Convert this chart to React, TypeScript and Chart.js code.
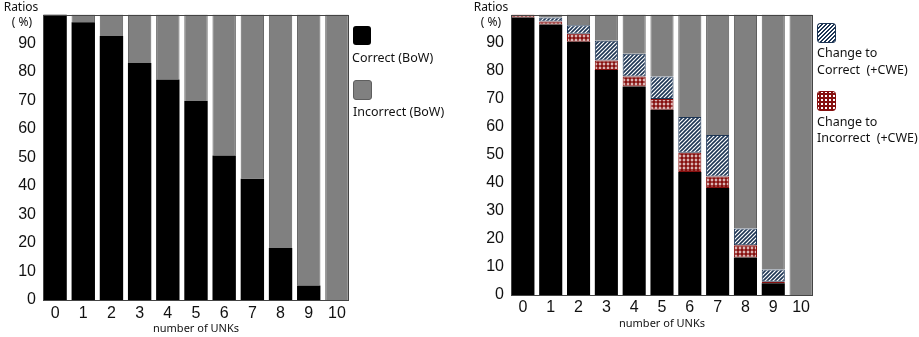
import React, { useEffect, useRef } from 'react';
import { Chart, registerables } from 'chart.js';

Chart.register(...registerables);

// ---------- data ----------
const categories = ['0', '1', '2', '3', '4', '5', '6', '7', '8', '9', '10'];

// Left panel (BoW)
const correctBoW = [100, 97.3, 92.5, 83, 77.3, 69.7, 50.6, 42.5, 18.2, 5.1, 0];
const incorrectBoW = [0, 2.7, 7.5, 17, 22.7, 30.3, 49.4, 57.5, 81.8, 94.9, 100];

// Right panel (+CWE)
const stayCorrect = [99, 96.5, 90.3, 80.2, 74.4, 66.1, 43.9, 38.2, 13.4, 4.2, 0];
const changeToIncorrect = [1, 1, 2.9, 3.4, 3.5, 3.8, 6.8, 4.1, 4.3, 0.5, 0];
const changeToCorrect = [0, 1.5, 3, 7.1, 8.1, 8, 12.8, 14.8, 6, 4.4, 0];
const stayIncorrect = [0, 1, 3.8, 9.3, 14, 22.1, 36.5, 42.9, 76.3, 90.9, 100];

const yMax = 100;
const yStep = 10;

const TICK_FONT = '"Liberation Sans", Arial, sans-serif';
const TEXT_FONT = '"Noto Sans", "Open Sans", sans-serif';

const GRAY = '#808080';
const GRAY_EDGE = '#5e5e5e';
const NAVY = '#1d3554';
const DARK_RED = '#86100f';

function hatchPattern(ctx: CanvasRenderingContext2D) {
  const c = document.createElement('canvas');
  c.width = 4;
  c.height = 4;
  const g = c.getContext('2d')!;
  g.fillStyle = '#ffffff';
  g.fillRect(0, 0, 4, 4);
  g.strokeStyle = NAVY;
  g.lineWidth = 1.6;
  g.beginPath();
  g.moveTo(0, 4);
  g.lineTo(4, 0);
  g.moveTo(-1, 1);
  g.lineTo(1, -1);
  g.moveTo(3, 5);
  g.lineTo(5, 3);
  g.stroke();
  return ctx.createPattern(c, 'repeat')!;
}

function dotPattern(ctx: CanvasRenderingContext2D) {
  const c = document.createElement('canvas');
  c.width = 4;
  c.height = 4;
  const g = c.getContext('2d')!;
  g.fillStyle = '#ffffff';
  g.fillRect(0, 0, 4, 4);
  g.fillStyle = DARK_RED;
  g.beginPath();
  g.arc(2, 2, 1.95, 0, Math.PI * 2);
  g.fill();
  return ctx.createPattern(c, 'repeat')!;
}

const framePlugin = {
  id: 'frame',
  afterDatasetsDraw(chart: any) {
    const { ctx, chartArea } = chart;
    const meta = chart.getDatasetMeta(0);
    const first = meta.data[0];
    const last = meta.data[meta.data.length - 1];
    const x0 = first.x - first.width / 2;
    const x1 = last.x + last.width / 2;
    ctx.save();
    ctx.strokeStyle = '#444444';
    ctx.lineWidth = 1;
    ctx.strokeRect(Math.round(x0) + 0.5, Math.round(chartArea.top) + 0.5, Math.round(x1 - x0), Math.round(chartArea.bottom - chartArea.top));
    ctx.restore();
  },
};

function edgeWidth(c: any) {
  const v = c.raw as number;
  return v > 0 ? 1 : 0;
}

function makeOptions(yWidth: number, xHeight: number, pad: any, tickPad: number, titlePadBottom: number) {
  return {
    responsive: false,
    animation: false as const,
    layout: { padding: pad },
    plugins: { legend: { display: false }, tooltip: { enabled: false } },
    scales: {
      x: {
        stacked: true,
        grid: { display: false, drawTicks: false },
        border: { display: false },
        ticks: { color: '#111', font: { family: TICK_FONT, size: 16 }, padding: tickPad, maxRotation: 0, autoSkip: false },
        title: {
          display: true,
          text: 'number of UNKs',
          color: '#111',
          font: { family: TEXT_FONT, size: 11 },
          padding: { top: 0, bottom: titlePadBottom },
        },
        afterFit(scale: any) {
          scale.height = xHeight;
        },
      },
      y: {
        stacked: true,
        min: 0,
        max: yMax,
        grid: { display: false, drawTicks: false },
        border: { display: false },
        ticks: {
          stepSize: yStep,
          color: '#111',
          padding: 5,
          font: { family: TICK_FONT, size: 16 },
          callback: (v: any) => (Number(v) >= yMax ? '' : String(v)),
        },
        afterFit(scale: any) {
          scale.width = yWidth;
        },
      },
    },
  };
}

function LeftChart() {
  const ref = useRef<HTMLCanvasElement>(null);
  useEffect(() => {
    const canvas = ref.current!;
    const chart = new Chart(canvas, {
      type: 'bar',
      data: {
        labels: categories,
        datasets: [
          {
            label: 'Correct (BoW)',
            data: correctBoW,
            backgroundColor: '#000000',
            borderWidth: 0,
            barPercentage: 0.83,
            categoryPercentage: 1,
          },
          {
            label: 'Incorrect (BoW)',
            data: incorrectBoW,
            backgroundColor: GRAY,
            borderColor: GRAY_EDGE,
            borderWidth: edgeWidth,
            barPercentage: 0.83,
            categoryPercentage: 1,
          },
        ],
      },
      options: makeOptions(41, 37, { top: 10, right: 109, left: 0, bottom: 0 }, 4, 2) as any,
      plugins: [framePlugin],
    });
    return () => chart.destroy();
  }, []);
  return <canvas ref={ref} width={460} height={337} style={{ position: 'absolute', left: 0, top: 0 }} />;
}

function RightChart() {
  const ref = useRef<HTMLCanvasElement>(null);
  useEffect(() => {
    const canvas = ref.current!;
    const ctx = canvas.getContext('2d')!;
    const hatch = hatchPattern(ctx);
    const dots = dotPattern(ctx);
    const chart = new Chart(canvas, {
      type: 'bar',
      data: {
        labels: categories,
        datasets: [
          {
            label: 'Correct',
            data: stayCorrect,
            backgroundColor: '#000000',
            borderWidth: 0,
            barPercentage: 0.83,
            categoryPercentage: 1,
          },
          {
            label: 'Change to Incorrect (+CWE)',
            data: changeToIncorrect,
            backgroundColor: dots as any,
            borderColor: DARK_RED,
            borderWidth: edgeWidth,
            borderSkipped: false,
            barPercentage: 0.83,
            categoryPercentage: 1,
          },
          {
            label: 'Change to Correct (+CWE)',
            data: changeToCorrect,
            backgroundColor: hatch as any,
            borderColor: NAVY,
            borderWidth: edgeWidth,
            borderSkipped: false,
            barPercentage: 0.83,
            categoryPercentage: 1,
          },
          {
            label: 'Incorrect',
            data: stayIncorrect,
            backgroundColor: GRAY,
            borderColor: GRAY_EDGE,
            borderWidth: edgeWidth,
            barPercentage: 0.83,
            categoryPercentage: 1,
          },
        ],
      },
      options: makeOptions(49, 42, { top: 7, right: 104, left: 0, bottom: 0 }, 3, 7) as any,
      plugins: [framePlugin],
    });
    return () => chart.destroy();
  }, []);
  return <canvas ref={ref} width={459} height={337} style={{ position: 'absolute', left: 460, top: 0 }} />;
}

const textStyle: React.CSSProperties = {
  position: 'absolute',
  fontFamily: TEXT_FONT,
  fontSize: 12.5,
  color: '#111',
  whiteSpace: 'pre',
  lineHeight: '16px',
};

const smallText: React.CSSProperties = {
  position: 'absolute',
  fontFamily: TEXT_FONT,
  fontSize: 12,
  color: '#111',
  whiteSpace: 'pre',
  lineHeight: '14px',
  textAlign: 'center',
};

export default function App() {
  return (
    <div style={{ position: 'absolute', left: 0, top: 0, width: 919, height: 337, background: '#fff', overflow: 'hidden' }}>
      <LeftChart />
      <RightChart />

      {/* axis unit labels */}
      <div style={{ ...smallText, left: 2, top: 0, width: 38 }}>Ratios</div>
      <div style={{ ...smallText, left: 3, top: 15, width: 38 }}>( %)</div>
      <div style={{ ...smallText, left: 472, top: 0, width: 38 }}>Ratios</div>
      <div style={{ ...smallText, left: 472, top: 15, width: 38 }}>( %)</div>

      {/* left legend */}
      <div style={{ position: 'absolute', left: 353, top: 26, width: 18, height: 19, background: '#000', borderRadius: 3 }} />
      <div style={{ ...textStyle, left: 352, top: 50 }}>Correct (BoW)</div>
      <div style={{ position: 'absolute', left: 353, top: 80, width: 17, height: 18, background: GRAY, border: '1px solid ' + GRAY_EDGE, borderRadius: 3 }} />
      <div style={{ ...textStyle, left: 353, top: 104 }}>Incorrect (BoW)</div>

      {/* right legend */}
      <div
        style={{
          position: 'absolute',
          left: 817,
          top: 23,
          width: 17,
          height: 18,
          border: '1px solid ' + NAVY,
          borderRadius: 3,
          backgroundColor: '#fff',
          backgroundImage: `repeating-linear-gradient(135deg, ${NAVY} 0px, ${NAVY} 1.4px, #fff 1.4px, #fff 2.8px)`,
        }}
      />
      <div style={{ ...textStyle, left: 817, top: 45 }}>Change to</div>
      <div style={{ ...textStyle, left: 817, top: 62 }}>Correct  (+CWE)</div>
      <div
        style={{
          position: 'absolute',
          left: 817,
          top: 91,
          width: 17,
          height: 18,
          border: '1px solid ' + DARK_RED,
          borderRadius: 3,
          backgroundColor: '#fff',
          backgroundImage: `radial-gradient(circle, ${DARK_RED} 1.7px, transparent 2px)`,
          backgroundSize: '4px 4px',
        }}
      />
      <div style={{ ...textStyle, left: 817, top: 114 }}>Change to</div>
      <div style={{ ...textStyle, left: 817, top: 130 }}>Incorrect  (+CWE)</div>
    </div>
  );
}
